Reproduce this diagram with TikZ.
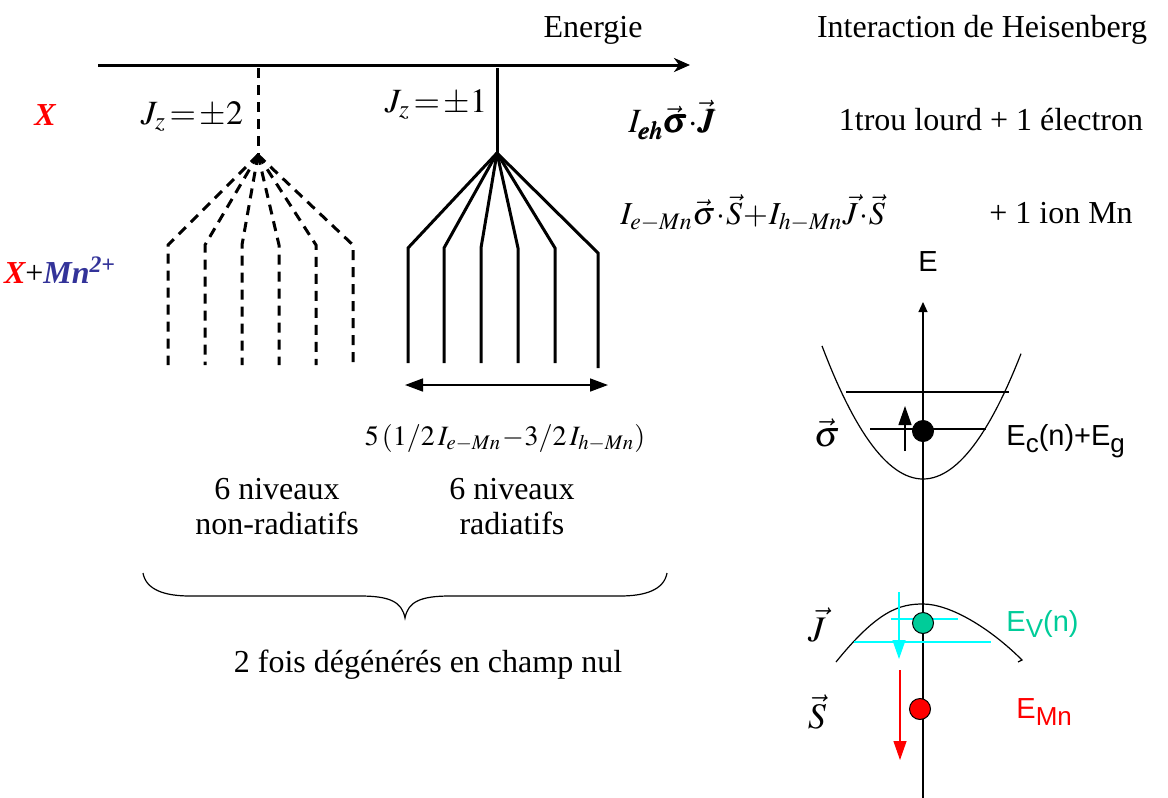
\documentclass[tikz,border=0pt]{standalone}
\usepackage{amsmath,amssymb}
\usepackage{mathptmx}
\usepackage{fontspec}
\setmainfont{Liberation Serif}
\setsansfont{Liberation Sans}
\usetikzlibrary{arrows.meta}
\definecolor{mnblue}{RGB}{51,51,153}
\definecolor{evgreen}{RGB}{0,204,153}
\definecolor{holecyan}{RGB}{0,255,255}
\newcommand{\lowsub}[1]{\raisebox{-0.45ex}{\fontsize{13}{13}\selectfont #1}}

\begin{document}
\begin{tikzpicture}[x=0.5pt,y=-0.5pt,
  txt/.style={font=\fontsize{16}{17.5}\selectfont,align=center,inner sep=0pt},
  band/.style={font=\sffamily\fontsize{14.5}{16}\selectfont,inner sep=0pt,anchor=west},
  lvl/.style={line width=1.5pt},
  lvldash/.style={line width=1.5pt,dash pattern=on 5pt off 3.5pt},
  spin/.style={-{Triangle[length=9.5pt,width=6.5pt]},line width=0.6pt},
  dot/.style={circle,draw=black,line width=0.5pt,minimum size=10.5pt,inner sep=0pt}]
\useasboundingbox (0,0) rectangle (1168,798);
% energy axis
\coordinate (ealeft) at (98,65);
\coordinate (earight) at (690,65);
\draw[line width=1.5pt,-{Stealth[length=8pt,width=7pt,inset=2.5pt]}] (ealeft) -- (earight);
\node[txt] (energie) at (593,30) {Energie};
\node[txt] (heis) at (982,30) {Interaction de Heisenberg};
\node[txt,font=\fontsize{16}{17}\selectfont\bfseries\itshape,text=red] (exc) at (45,115) {X};
\node[txt,font=\fontsize{16}{17}\selectfont\bfseries\itshape] (excmn) at (60,270)
  {\textcolor{red}{X}\textup{\mdseries +}\textcolor{mnblue}{Mn\textsuperscript{2+}}};
% non radiative levels
\node[txt,font=\fontsize{17}{18}\selectfont] (jz2) at (192,117) {$J_z\!=\!\pm2$};
\coordinate (nrtop) at (258,68);
\coordinate (nrfork) at (258,155);
\draw[lvldash] (nrtop) -- (nrfork);
\foreach \xx [count=\i] in {168,205,242,279,316,353}{
  \coordinate (nrup\i) at (\xx,245);
  \coordinate (nrlow\i) at (\xx,365);
  \draw[lvldash] (nrfork) -- (nrup\i) -- (nrlow\i);
}
% radiative levels
\node[txt,font=\fontsize{17}{18}\selectfont] (jz1) at (436,105) {$J_z\!=\!\pm1$};
\coordinate (rtop) at (497,68);
\coordinate (rfork) at (497,153);
\draw[lvl] (rtop) -- (rfork);
\foreach \xx/\yt/\yb [count=\i] in {408/248/363,444/248/363,481/248/363,518/248/363,555/248/363,598/253/368}{
  \coordinate (rup\i) at (\xx,\yt);
  \coordinate (rlow\i) at (\xx,\yb);
  \draw[lvl] (rfork) -- (rup\i) -- (rlow\i);
}
\coordinate (splitl) at (405,385);
\coordinate (splitr) at (608,385);
\draw[line width=0.8pt,{Triangle[length=9pt,width=6.5pt]}-{Triangle[length=9pt,width=6.5pt]}] (splitl) -- (splitr);
\node[txt,font=\fontsize{14}{15}\selectfont] (split) at (505,438) {$5\left(1/2\,I_{e-Mn}\!-\!3/2\,I_{h-Mn}\right)$};
\node[txt] (nonrad) at (277,507) {6 niveaux\\non-radiatifs};
\node[txt] (rad) at (512,507) {6 niveaux\\radiatifs};
% brace
\coordinate (brl) at (143,573);
\coordinate (brtip) at (405,618);
\coordinate (brr) at (667,573);
\draw[line width=0.6pt] (brl) .. controls (146,590) and (165,596) .. (190,596) -- (360,596)
  .. controls (390,596) and (402,602) .. (brtip) .. controls (408,602) and (420,596) .. (450,596)
  -- (620,596) .. controls (645,596) and (664,590) .. (brr);
\node[txt] (degen) at (428,665) {2 fois dégénérés en champ nul};
% hamiltonians
\node[txt,font=\fontsize{17}{18}\selectfont] (ieh) at (672,120) {$I_{\pmb{eh}}\vec{\pmb{\sigma}}\!\cdot\!\vec{\pmb{J}}$};
\node[txt] (trou) at (991,120) {1trou lourd + 1 électron};
\node[txt,font=\fontsize{16}{18}\selectfont,anchor=west] (imn) at (620,213)
  {$I_{e-Mn}\vec{\sigma}\!\cdot\!\vec{S}\!+\!I_{h-Mn}\vec{J}\!\cdot\!\vec{S}$};
\node[txt] (ion) at (1061,213) {+ 1 ion Mn};
% band diagram
\coordinate (axbot) at (923,798);
\coordinate (axtop) at (923,302);
\draw[line width=0.6pt,-{Triangle[length=5pt,width=4.5pt]}] (axbot) -- (axtop);
\node[band,anchor=center] (elabel) at (928,262) {E};
\draw[line width=0.6pt,domain=822:1021,samples=60] plot (\x,{479-0.01304*(\x-923)^2});
\coordinate (cl1a) at (846,392); \coordinate (cl1b) at (1009,392);
\coordinate (cl2a) at (870,429); \coordinate (cl2b) at (986,429);
\draw[line width=0.6pt] (cl1a) -- (cl1b);
\draw[line width=0.6pt] (cl2a) -- (cl2b);
\node[dot,fill=black] (elec) at (923,431) {};
\coordinate (sgbot) at (905,451); \coordinate (sgtop) at (905,406);
\draw[spin] (sgbot) -- (sgtop);
\node[txt,font=\fontsize{18}{19}\selectfont] (sigma) at (827,433) {$\vec{\sigma}$};
\node[band] (ec) at (1006,441) {E\lowsub{c}(n)+E\lowsub{g}};
% valence band
\coordinate (vl) at (836,662); \coordinate (vtop) at (923,604); \coordinate (vr) at (1022,660);
\draw[line width=0.6pt] (vl) .. controls (878,610) and (900,604) .. (vtop)
  .. controls (950,604) and (990,628) .. (vr) -- ++(-4,2);
\coordinate (hl1a) at (891,619); \coordinate (hl1b) at (958,619);
\coordinate (hl2a) at (854,642); \coordinate (hl2b) at (991,642);
\draw[holecyan,line width=0.7pt] (hl1a) -- (hl1b);
\draw[holecyan,line width=1.2pt] (hl2a) -- (hl2b);
\coordinate (jtop) at (899,592); \coordinate (jbot) at (899,659);
\draw[spin,holecyan] (jtop) -- (jbot);
\node[dot,fill=evgreen] (hole) at (923,623) {};
\node[txt,font=\fontsize{18}{19}\selectfont] (jvec) at (817,625) {$\vec{J}$};
\node[band,text=evgreen] (ev) at (1006,624) {E\lowsub{V}(n)};
% Mn ion
\coordinate (stop) at (900,670); \coordinate (sbot) at (900,760);
\draw[spin,red] (stop) -- (sbot);
\node[dot,fill=red] (mn) at (920,709) {};
\node[txt,font=\fontsize{18}{19}\selectfont] (svec) at (817,712) {$\vec{S}$};
\node[band,text=red] (emn) at (1016,712) {E\lowsub{Mn}};
\end{tikzpicture}
\end{document}
